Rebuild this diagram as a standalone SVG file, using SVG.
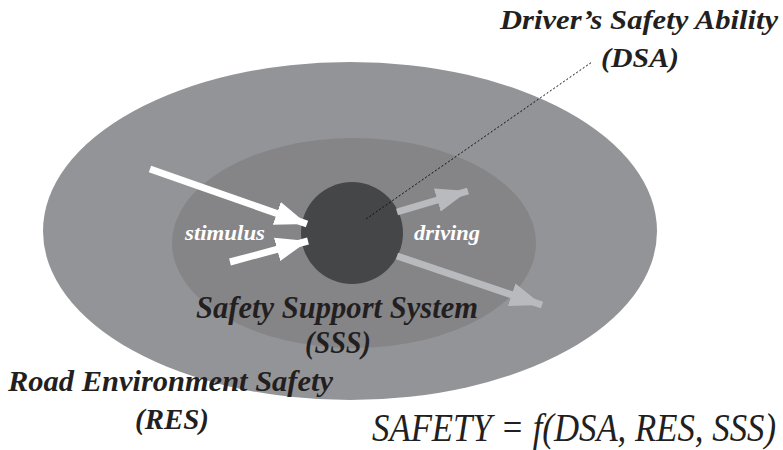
<svg xmlns="http://www.w3.org/2000/svg" width="783" height="450" viewBox="0 0 783 450">
  <style>
    .lbl { font-style: italic; font-weight: bold; fill: #231f20; }
    .inner { font-style: italic; font-weight: bold; fill: #ffffff; font-size: 21px; }
    .formula { font-style: italic; fill: #231f20; font-size: 39px; }
    .in-arrow { stroke: #ffffff; stroke-width: 7; fill: none; }
    .out-arrow { stroke: #b9babd; stroke-width: 7; fill: none; }
  </style>
  <defs>
    <marker id="headWhite" markerUnits="userSpaceOnUse" markerWidth="34" markerHeight="28" refX="32" refY="14" orient="auto">
      <path d="M0,2 L32,14 L0,26 Z" fill="#ffffff"/>
    </marker>
    <marker id="headGray" markerUnits="userSpaceOnUse" markerWidth="34" markerHeight="28" refX="32" refY="14" orient="auto">
      <path d="M0,2 L32,14 L0,26 Z" fill="#b9babd"/>
    </marker>
  </defs>
  <rect width="783" height="450" fill="#ffffff"/>

  <!-- nested safety layers, outermost first -->
  <g id="res">
    <ellipse cx="350" cy="231" rx="307" ry="169" fill="#939497"/>
  </g>
  <g id="sss">
    <ellipse cx="354" cy="243" rx="182" ry="105" fill="#858588"/>
  </g>
  <g id="dsa">
    <circle cx="352" cy="233" r="51" fill="#454648"/>
  </g>

  <g id="connectors">
    <line class="in-arrow" x1="150" y1="169" x2="307" y2="224" marker-end="url(#headWhite)"/>
    <line class="in-arrow" x1="230" y1="262" x2="308" y2="241" marker-end="url(#headWhite)"/>
    <line class="out-arrow" x1="397" y1="212" x2="468" y2="191" marker-end="url(#headGray)"/>
    <line class="out-arrow" x1="397" y1="256" x2="542" y2="305" marker-end="url(#headGray)"/>
    <line x1="366" y1="219" x2="592" y2="62" stroke="#111111" stroke-width="1" stroke-dasharray="2,2"/>
  </g>

  <g id="labels" font-family="Liberation Serif, Times New Roman, serif">
    <text class="lbl" font-family="Liberation Serif" x="500" y="29" font-size="28" textLength="278" lengthAdjust="spacingAndGlyphs">Driver’s Safety Ability</text>
    <text class="lbl" font-family="Liberation Serif" x="601" y="67" font-size="28" textLength="78" lengthAdjust="spacingAndGlyphs">(DSA)</text>
    <text class="inner" font-family="Liberation Serif" x="185" y="240" textLength="80" lengthAdjust="spacingAndGlyphs">stimulus</text>
    <text class="inner" font-family="Liberation Serif" x="414" y="240" textLength="66" lengthAdjust="spacingAndGlyphs">driving</text>
    <text class="lbl" font-family="Liberation Serif" x="196" y="318" font-size="32" textLength="282" lengthAdjust="spacingAndGlyphs">Safety Support System</text>
    <text class="lbl" font-family="Liberation Serif" x="305" y="353" font-size="32" textLength="66" lengthAdjust="spacingAndGlyphs">(SSS)</text>
    <text class="lbl" font-family="Liberation Serif" x="8" y="391" font-size="29" textLength="325" lengthAdjust="spacingAndGlyphs">Road Environment Safety</text>
    <text class="lbl" font-family="Liberation Serif" x="135" y="429" font-size="29" textLength="74" lengthAdjust="spacingAndGlyphs">(RES)</text>
    <text class="formula" font-family="Liberation Serif" x="372" y="441" textLength="404" lengthAdjust="spacingAndGlyphs">SAFETY = f(DSA, RES, SSS)</text>
  </g>
</svg>
